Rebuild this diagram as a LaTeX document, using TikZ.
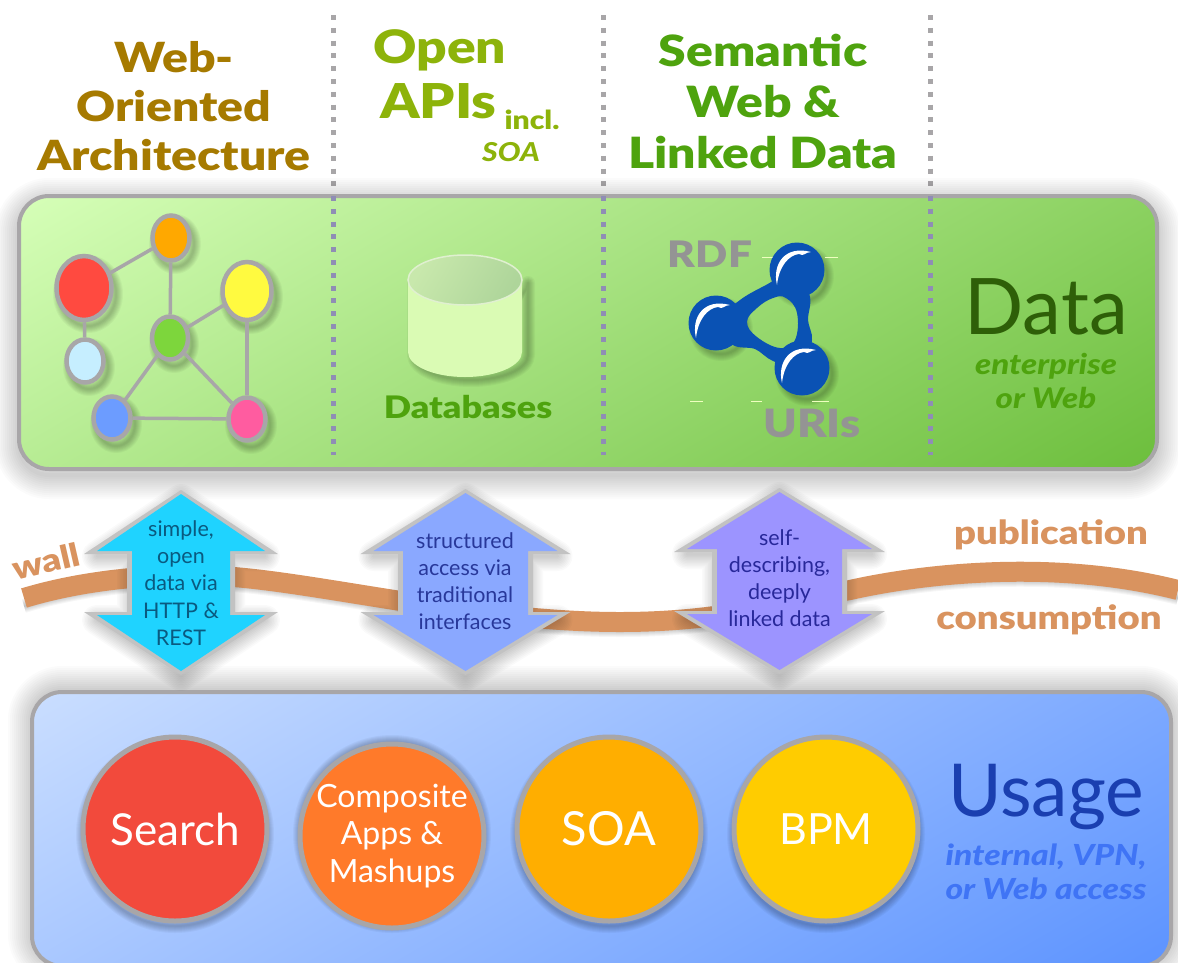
\documentclass[tikz,border=0pt]{standalone}
\usepackage{fontspec}
\setmainfont{Lato}[BoldFont={Lato Black},BoldItalicFont={Lato Black Italic},BoldFeatures={FakeStretch=1.16},BoldItalicFeatures={FakeStretch=1.16}]
\usetikzlibrary{shapes.geometric}
\newcommand\fs[2]{\fontsize{#1}{#2}\selectfont}
\definecolor{rim}{HTML}{A8A6A8}
\definecolor{webarch}{HTML}{A67A00}
\definecolor{openapi}{HTML}{8DB30A}
\definecolor{semweb}{HTML}{4EA30E}
\definecolor{band}{HTML}{D9935F}
\definecolor{rdfblue}{HTML}{0A52B4}
\definecolor{datadark}{HTML}{2E5F08}
\definecolor{usagedark}{HTML}{1A3FB0}
\definecolor{usagesub}{HTML}{3F74F5}
\definecolor{green1}{HTML}{D6FFB8}
\definecolor{green2}{HTML}{A8E484}
\definecolor{green3}{HTML}{6CBE3C}
\definecolor{blue1}{HTML}{CADEFF}
\definecolor{blue2}{HTML}{98BAFF}
\definecolor{blue3}{HTML}{5C93FF}
\definecolor{cylbody}{HTML}{DAFBB4}
\definecolor{cyledge}{HTML}{E0F0D0}
\definecolor{cyltop1}{HTML}{C8E8AC}
\definecolor{cyltop2}{HTML}{AED59A}
\definecolor{arrowa}{HTML}{1FD3FF}
\definecolor{arrowb}{HTML}{8AA8FF}
\definecolor{arrowc}{HTML}{9C94FF}
\definecolor{arrowatext}{HTML}{0A5A80}
\definecolor{arrowbtext}{HTML}{28389A}
\definecolor{arrowctext}{HTML}{28289A}
\definecolor{csearch}{HTML}{F24A3C}
\definecolor{ccomp}{HTML}{FF7A2A}
\definecolor{csoa}{HTML}{FFAE00}
\definecolor{cbpm}{HTML}{FFCC00}
\tikzset{
  head/.style={font=\bfseries\fs{#1}{49}, align=center, inner sep=0},
  gnode/.style={ellipse, draw=rim, line width=4.5pt, inner sep=0},
  gedge/.style={draw=rim, line width=3.5pt},
  ucircle/.style={circle, draw=rim, line width=5pt, minimum size=184pt, inner sep=0, text=white, align=center},
  arrowtext/.style={font=\fs{21.5}{27.2}, align=center, inner sep=0},
  divider/.style={draw=rim, line width=5pt, dash pattern=on 5pt off 7.8pt},
  wallband/.style={draw=band, line width=20pt},
}
\newcommand\softshadow[2]{%
  \begin{scope}[shift={(#1)}]
  \foreach \w in {4,8,...,48}{\draw[black,opacity=.017,line width=\w pt,line join=round] #2;}
  \end{scope}}
\newcommand\midshadow[2]{%
  \begin{scope}[shift={(#1)}]
  \foreach \w in {3,6,...,30}{\draw[black,opacity=.02,line width=\w pt,line join=round] #2;}
  \end{scope}}
\newcommand\smallshadow[2]{%
  \begin{scope}[shift={(#1)}]
  \foreach \w in {2,4,...,14}{\draw[black,opacity=.035,line width=\w pt,line join=round] #2;}
  \end{scope}}
\newcommand\dblarrow[8]{%
  \midshadow{0,5}{(#1,#2) -- ({#1+#4},#6) -- ({#1+#5},#6) -- ({#1+#5},#7) -- ({#1+#4},#7) -- (#1,#3) -- ({#1-#4},#7) -- ({#1-#5},#7) -- ({#1-#5},#6) -- ({#1-#4},#6) -- cycle}
  \fill[black!24] (#1,#2-4) -- ({#1+#4+13},#6+3) -- ({#1+#5+5},#6+3) -- ({#1+#5+5},#7-3) -- ({#1+#4+13},#7-3) -- (#1,#3+4) -- ({#1-#4-13},#7-3) -- ({#1-#5-5},#7-3) -- ({#1-#5-5},#6+3) -- ({#1-#4-13},#6+3) -- cycle;
  \fill[#8] (#1,#2) -- ({#1+#4},#6) -- ({#1+#5},#6) -- ({#1+#5},#7) -- ({#1+#4},#7) -- (#1,#3) -- ({#1-#4},#7) -- ({#1-#5},#7) -- ({#1-#5},#6) -- ({#1-#4},#6) -- cycle;}
\newcommand\rdfball[2]{%
  \fill[rdfblue] (#1,#2) circle (27.5);
  \fill[white] ({#1-20},{#2+15}) .. controls ({#1-25},{#2-6}) and ({#1-12},{#2-25}) .. ({#1+14},{#2-18})
     .. controls ({#1+8},{#2-18}) and ({#1+7},{#2-13}) .. ({#1+2},{#2-16})
     .. controls ({#1-8},{#2-15}) and ({#1-18},{#2-4}) .. ({#1-20},{#2+15}) -- cycle;}
% panel with a diagonal gradient: left top right bottom colour1 colour2 colour3
\newcommand\gradpanel[7]{%
  \begin{scope}
  \clip[rounded corners=30pt] (#1,#2) rectangle (#3,#4);
  \shade[transform canvas={rotate around={30:({(#1+#3)/2},{(#2+#4)/2})}}, top color=#5, middle color=#6, bottom color=#7]
    ({(#1+#3)/2-1000},{(#2+#4)/2-404}) rectangle ({(#1+#3)/2+1000},{(#2+#4)/2+404});
  \end{scope}
  \draw[rim, line width=4pt, rounded corners=30pt] (#1,#2) rectangle (#3,#4);}
\begin{document}
\begin{tikzpicture}[x=1pt,y=-1pt]
\useasboundingbox (0,0) rectangle (1178,962);
\clip (0,0) rectangle (1178,962);
\fill[white] (0,0) rectangle (1178,962);

\coordinate (d1a) at (333,15); \coordinate (d1b) at (333,455);
\coordinate (d2a) at (603,15); \coordinate (d2b) at (603,455);
\coordinate (d3a) at (930,15); \coordinate (d3b) at (930,455);
\draw[divider] (d1a) -- (d1b);
\draw[divider] (d2a) -- (d2b);
\draw[divider] (d3a) -- (d3b);

% panels
\softshadow{0,6}{[rounded corners=30pt] (19,196) rectangle (1157,469)}
\softshadow{0,-2}{[rounded corners=30pt] (32,692) rectangle (1171,966)}
\gradpanel{19}{196}{1157}{469}{green1}{green2}{green3}
\gradpanel{32}{692}{1171}{966}{blue1}{blue2}{blue3}

\draw[divider, draw=rim!85!blue] (333,196) -- (d1b);
\draw[divider, draw=rim!85!blue] (603,196) -- (d2b);
\draw[divider, draw=rim!85!blue] (930,196) -- (d3b);

% headings
\node[head=41.5, text=webarch] (hweb) at (174,106) {Web-\\Oriented\\Architecture};
\node[head=46, text=openapi, anchor=west] (hopen) at (373,50) {Open};
\node[head=48, text=openapi, anchor=west] (hapis) at (380,101) {APIs};
\node[head=26, text=openapi] (hincl) at (532,120) {incl.};
\node[head=26, text=openapi, font=\bfseries\itshape\fs{26}{26}] (hsoa) at (511,152) {SOA};
\node[head=43, text=semweb, font=\bfseries\fs{43}{51}] (hsem) at (763,101) {Semantic\\Web \&\\Linked Data};

% graph
\smallshadow{4,6}{(171,238) ellipse (19 and 23)}
\smallshadow{4,6}{(84,288) ellipse (28 and 32)}
\smallshadow{4,6}{(247,291) ellipse (25 and 30)}
\smallshadow{4,6}{(170,338) ellipse (18 and 22)}
\smallshadow{4,6}{(85,361) ellipse (19 and 22)}
\smallshadow{4,6}{(112,418) ellipse (19 and 22)}
\smallshadow{4,6}{(247,419) ellipse (19 and 22)}
\node[gnode, fill={rgb,255:red,255;green,168;blue,0}, minimum width=37pt, minimum height=45pt] (gorange) at (171,238) {};
\node[gnode, fill={rgb,255:red,255;green,74;blue,64}, minimum width=55pt, minimum height=64pt] (gred) at (84,288) {};
\node[gnode, fill={rgb,255:red,255;green,250;blue,64}, minimum width=49pt, minimum height=58pt] (gyellow) at (247,291) {};
\node[gnode, fill={rgb,255:red,125;green,214;blue,60}, minimum width=36pt, minimum height=43pt] (ggreen) at (170,338) {};
\node[gnode, fill={rgb,255:red,198;green,238;blue,255}, minimum width=37pt, minimum height=43pt] (glight) at (85,361) {};
\node[gnode, fill={rgb,255:red,108;green,156;blue,255}, minimum width=37pt, minimum height=43pt] (gblue) at (112,418) {};
\node[gnode, fill={rgb,255:red,255;green,92;blue,160}, minimum width=37pt, minimum height=43pt] (gpink) at (247,419) {};
\draw[gedge] (gred) -- (gorange);
\draw[gedge] (gorange) -- (ggreen);
\draw[gedge] (ggreen) -- (gyellow);
\draw[gedge] (gyellow) -- (gpink);
\draw[gedge] (gred) -- (glight);
\draw[gedge] (ggreen) -- (gblue);
\draw[gedge] (ggreen) -- (gpink);
\draw[gedge] (gblue) -- (gpink);

% database cylinder
\smallshadow{6,3}{(408,280) -- (408,352) arc[start angle=180,end angle=0,x radius=57,y radius=25] -- (522,280) arc[start angle=0,end angle=180,x radius=57,y radius=25] -- cycle}
\fill[cylbody] (408,280) -- (408,352) arc[start angle=180,end angle=0,x radius=57,y radius=25] -- (522,280) arc[start angle=0,end angle=180,x radius=57,y radius=25] -- cycle;
\draw[cyledge, line width=1.5pt, top color=cyltop1, bottom color=cyltop2, shading angle=60] (465,280) ellipse (57 and 25);
\node[font=\bfseries\fs{31}{31}, text=semweb, inner sep=0] (ldb) at (468,407) {Databases};

% RDF logo
\smallshadow{5,6}{(797,270) circle (25)}
\smallshadow{5,6}{(716,323) circle (25)}
\smallshadow{5,6}{(802,368) circle (25)}
\draw[white!75!lime, line width=1pt] (762,257) -- (773,257) (825,257) -- (838,257) (690,401) -- (703,401) (751,401) -- (762,401) (812,401) -- (829,401);
\fill[rdfblue, even odd rule]
  plot[smooth cycle, tension=.55] coordinates {(716,323) (740,300) (766,285) (797,270) (810,297) (808,320) (812,340) (802,368) (773,361) (755,349) (733,345)}
  plot[smooth cycle, tension=.7] coordinates {(786,298) (797,313) (795,340) (780,348) (757,337) (747,322) (757,308) (773,298)};
\rdfball{797}{270}
\rdfball{716}{323}
\rdfball{802}{368}
\node[font=\bfseries\fs{36.5}{36.5}, text=black!42, inner sep=0] (lrdf) at (710,254) {RDF};
\node[font=\bfseries\fs{39}{39}, text=black!42, inner sep=0] (luri) at (812,423) {URIs};

% data label
\node[font=\fs{78}{78}, text=datadark, inner sep=0] (ldata) at (1046,307) {Data};
\node[font=\bfseries\itshape\fs{28.5}{34}, text=semweb, align=center, inner sep=0] (lent) at (1046,381) {enterprise\\or Web};

% wall band
\smallshadow{0,8}{(24,598) .. controls (90,578) and (170,572) .. (234,577) .. controls (330,585) and (480,622) .. (620,622) .. controls (730,622) and (790,600) .. (850,590) .. controls (930,572) and (1060,560) .. (1178,590)}
\draw[wallband] (24,598) .. controls (90,578) and (170,572) .. (234,577) .. controls (330,585) and (480,622) .. (620,622) .. controls (730,622) and (790,600) .. (850,590) .. controls (930,572) and (1060,560) .. (1178,590);

\node[font=\bfseries\fs{32}{32}, text=band, rotate=13, inner sep=0] (lwall) at (46,561) {wall};
\node[font=\bfseries\fs{33}{33}, text=band, inner sep=0] (lpub) at (1051,535) {publication};
\node[font=\bfseries\fs{33}{33}, text=band, inner sep=0] (lcons) at (1049,620) {consumption};

% double arrows
\dblarrow{181}{494}{671}{84}{49}{551}{615}{arrowa}
\dblarrow{465.5}{493}{671}{92}{62.5}{551}{615}{arrowb}
\dblarrow{779.5}{492}{670}{92.5}{62.5}{549}{614}{arrowc}
\node[arrowtext, text=arrowatext] (ta) at (181,583) {simple,\\open\\data via\\HTTP \&\\REST};
\node[arrowtext, text=arrowbtext] (tb) at (465,581) {structured\\access via\\traditional\\interfaces};
\node[arrowtext, text=arrowctext] (tc) at (779.5,578) {self-\\describing,\\deeply\\linked data};

% usage circles
\smallshadow{0,5}{(175,829) circle (92)}
\smallshadow{0,5}{(392,829) circle (92)}
\smallshadow{0,5}{(609,829) circle (92)}
\smallshadow{0,5}{(826,829) circle (92)}
\node[ucircle, fill=csearch, font=\fs{44}{44}] (csrc) at (175,829) {Search};
\node[ucircle, fill=ccomp, font=\fs{32}{37.5}] (ccp) at (392,836) {Composite\\Apps \&\\Mashups};
\node[ucircle, fill=csoa, font=\fs{47}{47}] (csa) at (609,829) {SOA};
\node[ucircle, fill=cbpm, font=\fs{43}{43}] (cbp) at (826,829) {BPM};

\node[font=\fs{73}{73}, text=usagedark, inner sep=0] (lusage) at (1046,797) {Usage};
\node[font=\bfseries\itshape\fs{29}{34}, text=usagesub, align=center, inner sep=0] (lacc) at (1046,872) {internal, VPN,\\or Web access};
\end{tikzpicture}
\end{document}
